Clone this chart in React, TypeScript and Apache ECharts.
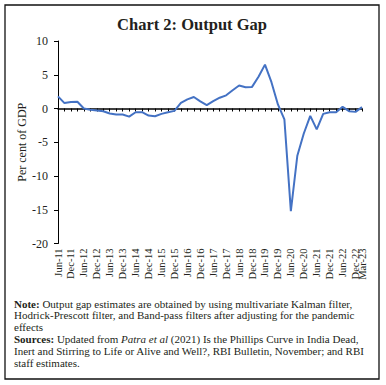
import React, { useEffect, useRef } from "react";
import * as echarts from "echarts";

const quarters: string[] = [
  "Jun-11", "Sep-11", "Dec-11", "Mar-12", "Jun-12", "Sep-12", "Dec-12", "Mar-13",
  "Jun-13", "Sep-13", "Dec-13", "Mar-14", "Jun-14", "Sep-14", "Dec-14", "Mar-15",
  "Jun-15", "Sep-15", "Dec-15", "Mar-16", "Jun-16", "Sep-16", "Dec-16", "Mar-17",
  "Jun-17", "Sep-17", "Dec-17", "Mar-18", "Jun-18", "Sep-18", "Dec-18", "Mar-19",
  "Jun-19", "Sep-19", "Dec-19", "Mar-20", "Jun-20", "Sep-20", "Dec-20", "Mar-21",
  "Jun-21", "Sep-21", "Dec-21", "Mar-22", "Jun-22", "Sep-22", "Dec-22", "Mar-23",
];

const outputGap: number[] = [
  1.8, 0.8, 0.95, 1.0, 0.0, -0.2, -0.3, -0.4,
  -0.75, -0.9, -0.9, -1.2, -0.55, -0.55, -1.05, -1.15,
  -0.8, -0.55, -0.35, 0.85, 1.35, 1.7, 1.05, 0.5,
  1.1, 1.6, 1.95, 2.7, 3.4, 3.15, 3.2, 4.7,
  6.5, 3.9, 0.6, -1.6, -15.2, -7.0, -3.7, -1.1,
  -3.1, -0.8, -0.55, -0.55, 0.25, -0.4, -0.5, 0.2,
];

const titleText = "Chart 2: Output Gap";
const yAxisName = "Per cent of GDP";
const noteLines: string[] = [
  "{b|Note:} Output gap estimates are obtained by using multivariate Kalman filter,",
  "Hodrick-Prescott filter, and Band-pass filters after adjusting for the pandemic",
  "effects",
  "{b|Sources:} Updated from {i|Patra et al} (2021) Is the Phillips Curve in India Dead,",
  "Inert and Stirring to Life or Alive and Well?, RBI Bulletin, November; and RBI",
  "staff estimates.",
];

const SERIF = "'Liberation Serif', 'DejaVu Serif', serif";
const TEXT = "#231f20";

export default function App() {
  const ref = useRef<HTMLDivElement>(null);
  useEffect(() => {
    if (!ref.current) return;
    const chart = echarts.init(ref.current, null, { renderer: "svg" });
    const lastIdx = quarters.length - 1;
    const noteTop = 303.5;
    const lineH = 11.8;
    const noteSize = 11;
    const labelAxis = (intervalFn: (i: number) => boolean, padding: number[]) => ({
      type: "category",
      data: quarters,
      boundaryGap: false,
      position: "bottom",
      axisLine: { show: false, onZero: false },
      axisTick: { show: false },
      axisLabel: {
        show: true,
        rotate: 90,
        margin: 5,
        fontSize: 10.5,
        fontFamily: SERIF,
        color: TEXT,
        hideOverlap: false,
        padding,
        interval: intervalFn,
      },
      splitLine: { show: false },
    });
    chart.setOption({
      animation: false,
      backgroundColor: "#ffffff",
      grid: { left: 58, right: 24, top: 41, bottom: 141.5, containLabel: false },
      xAxis: [
        {
          type: "category",
          data: quarters,
          boundaryGap: false,
          position: "bottom",
          axisLine: { show: true, onZero: true, lineStyle: { color: "#000", width: 1.5 } },
          axisTick: { show: true, interval: 0, length: 3, lineStyle: { color: "#000", width: 1 } },
          axisLabel: { show: false },
          splitLine: { show: false },
        },
        labelAxis((i: number) => i % 2 === 0 && i !== lastIdx, [0, 0, 0, 0]),
        labelAxis((i: number) => i === lastIdx, [5, 0, 0, 0]),
      ],
      yAxis: {
        type: "value",
        min: -20,
        max: 10,
        interval: 5,
        name: yAxisName,
        nameLocation: "middle",
        nameGap: 30,
        nameMoveOverlap: false,
        nameTextStyle: { fontSize: 12, fontFamily: SERIF, color: TEXT },
        axisLine: { show: true, lineStyle: { color: "#000", width: 1 } },
        axisTick: { show: true, length: 4, lineStyle: { color: "#000", width: 1 } },
        axisLabel: { fontSize: 12, fontFamily: SERIF, color: TEXT, margin: 10 },
        splitLine: { show: false },
      },
      series: [
        {
          type: "line",
          xAxisIndex: 0,
          data: outputGap,
          symbol: "none",
          lineStyle: { color: "#4472c4", width: 2 },
          itemStyle: { color: "#4472c4" },
        },
      ],
      graphic: [
        {
          type: "rect",
          shape: { x: 5, y: 5, width: 374, height: 374 },
          style: { fill: "none", stroke: "#111", lineWidth: 1.3 },
          silent: true,
        },
        {
          type: "text",
          x: 192,
          y: 24,
          style: {
            text: titleText,
            fontSize: 16.5,
            fontWeight: "bold",
            fontFamily: SERIF,
            fill: TEXT,
            align: "center",
            verticalAlign: "middle",
          },
        },
        ...noteLines.map((t, i) => ({
          type: "text",
          x: 14,
          y: noteTop + i * lineH,
          style: {
            text: t,
            fontSize: noteSize,
            fontFamily: SERIF,
            fill: TEXT,
            align: "left",
            verticalAlign: "middle",
            rich: {
              b: { fontWeight: "bold", fontSize: noteSize, fontFamily: SERIF, fill: TEXT },
              i: { fontStyle: "italic", fontSize: noteSize, fontFamily: SERIF, fill: TEXT },
            },
          },
        })),
      ],
    });
    return () => chart.dispose();
  }, []);
  return (
    <div
      ref={ref}
      style={{ position: "absolute", left: 0, top: 0, width: 386, height: 385 }}
    />
  );
}
